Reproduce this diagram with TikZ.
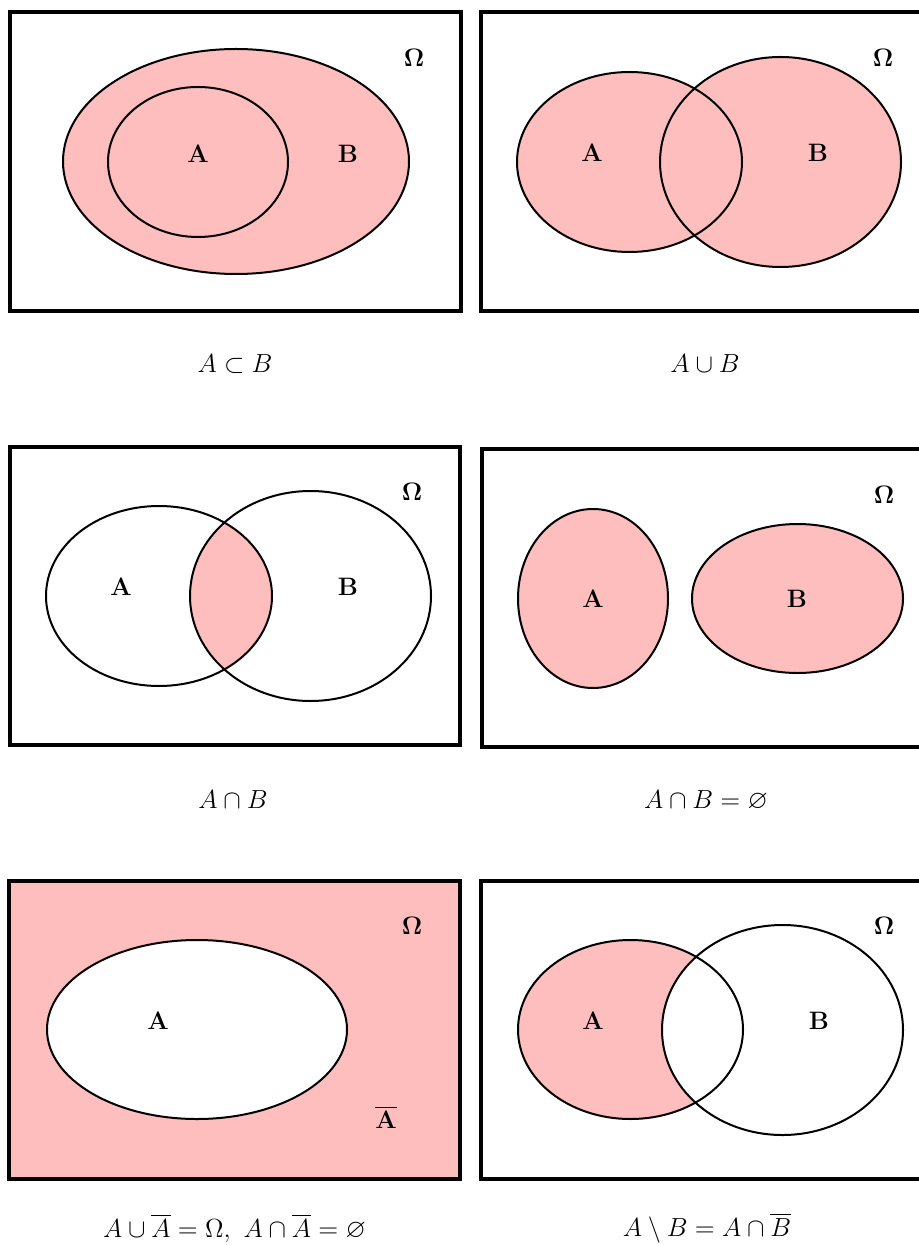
\documentclass[tikz,border=0pt]{standalone}
\usepackage{graphicx}
\usepackage{amsmath,amssymb}
\definecolor{vpink}{RGB}{255,190,190}
\newcommand{\labtxt}[1]{\scalebox{1.05}{#1}}
\newcommand{\captxt}[1]{\scalebox{1.09}{#1}}
\begin{document}
\begin{tikzpicture}[x=0.5pt,y=-0.5pt,
  frame/.style={line width=1.7pt},
  setline/.style={line width=1pt},
  lab/.style={font=\fontsize{12}{14}\selectfont\bfseries, inner sep=0pt},
  capt/.style={font=\fontsize{12}{14}\selectfont, inner sep=0pt}]
\useasboundingbox (0,0) rectangle (919,1245);
\clip (0,0) rectangle (919,1245);
% ---------- Panel 1: A subset B
\draw[frame] (10,12) rectangle (461,311);
\draw[setline, fill=vpink] (236,161.5) ellipse [x radius=173, y radius=112.5];
\draw[setline] (198,162) ellipse [x radius=90, y radius=75];
\node[lab] (a1) at (198,154) {\labtxt{A}};
\node[lab] (b1) at (348,154) {\labtxt{B}};
\node[lab] (o1) at (414,58) {\labtxt{$\mathbf{\Omega}$}};
\node[capt] (c1) at (235,364) {\captxt{$A\subset B$}};
% ---------- Panel 2: A cup B
\draw[frame] (481,12) rectangle (940,311);
\fill[vpink] (629.5,162) ellipse [x radius=112.5, y radius=90];
\fill[vpink] (780.5,162) ellipse [x radius=120.5, y radius=105];
\draw[setline] (629.5,162) ellipse [x radius=112.5, y radius=90];
\draw[setline] (780.5,162) ellipse [x radius=120.5, y radius=105];
\node[lab] (a2) at (592,153) {\labtxt{A}};
\node[lab] (b2) at (818,153) {\labtxt{B}};
\node[lab] (o2) at (883,58) {\labtxt{$\mathbf{\Omega}$}};
\node[capt] (c2) at (705,364) {\captxt{$A\cup B$}};
% ---------- Panel 3: A cap B
\draw[frame] (10,447) rectangle (460,745);
\begin{scope}
  \clip (159,596) ellipse [x radius=113, y radius=90];
  \fill[vpink] (310.5,596) ellipse [x radius=120.5, y radius=105];
\end{scope}
\draw[setline] (159,596) ellipse [x radius=113, y radius=90];
\draw[setline] (310.5,596) ellipse [x radius=120.5, y radius=105];
\node[lab] (a3) at (121,587) {\labtxt{A}};
\node[lab] (b3) at (348,587) {\labtxt{B}};
\node[lab] (o3) at (412,492) {\labtxt{$\mathbf{\Omega}$}};
\node[capt] (c3) at (233,800) {\captxt{$A\cap B$}};
% ---------- Panel 4: disjoint
\draw[frame] (482,449) rectangle (940,747);
\draw[setline, fill=vpink] (593,598.5) ellipse [x radius=75, y radius=89.5];
\draw[setline, fill=vpink] (797.5,598.5) ellipse [x radius=105.5, y radius=74.5];
\node[lab] (a4) at (593,599) {\labtxt{A}};
\node[lab] (b4) at (797,599) {\labtxt{B}};
\node[lab] (o4) at (884,495) {\labtxt{$\mathbf{\Omega}$}};
\node[capt] (c4) at (706,801) {\captxt{$A\cap B=\varnothing$}};
% ---------- Panel 5: complement
\draw[frame, fill=vpink] (9,881) rectangle (460,1179);
\draw[setline, fill=white] (197,1029.5) ellipse [x radius=150, y radius=89.5];
\node[lab] (a5) at (158,1021) {\labtxt{A}};
\node[lab] (ab5) at (386,1117.5) {\labtxt{$\overline{\mathbf{A}}$}};
\node[lab] (o5) at (412,926) {\labtxt{$\mathbf{\Omega}$}};
\node[capt] (c5) at (234.5,1228) {\captxt{$A\cup\overline{A}=\Omega,\ A\cap\overline{A}=\varnothing$}};
% ---------- Panel 6: difference
\draw[frame] (481,881) rectangle (940,1179);
\fill[vpink] (630.5,1029.5) ellipse [x radius=112.5, y radius=89.5];
\fill[white] (782.5,1030) ellipse [x radius=120.5, y radius=105];
\draw[setline] (630.5,1029.5) ellipse [x radius=112.5, y radius=89.5];
\draw[setline] (782.5,1030) ellipse [x radius=120.5, y radius=105];
\node[lab] (a6) at (593,1021) {\labtxt{A}};
\node[lab] (b6) at (819,1021) {\labtxt{B}};
\node[lab] (o6) at (884,926) {\labtxt{$\mathbf{\Omega}$}};
\node[capt] (c6) at (707,1228) {\captxt{$A\setminus B=A\cap\overline{B}$}};
\end{tikzpicture}
\end{document}
